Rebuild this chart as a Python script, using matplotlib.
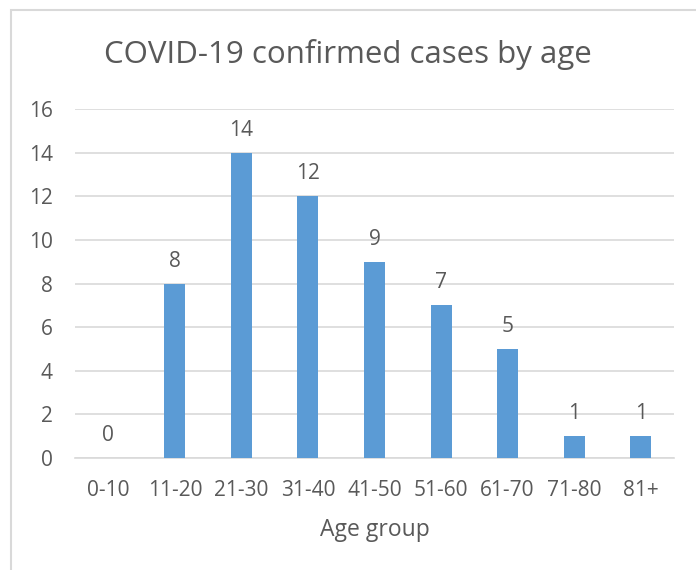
import matplotlib.pyplot as plt
from matplotlib.patches import Rectangle

age_groups = ['0-10', '11-20', '21-30', '31-40', '41-50', '51-60', '61-70', '71-80', '81+']
cases = [0, 8, 14, 12, 9, 7, 5, 1, 1]

plt.rcParams['font.family'] = ['Open Sans', 'DejaVu Sans']
text_col = '#595959'

fig = plt.figure(figsize=(6.96, 5.70), dpi=100)
ax = fig.add_axes([75/696, 112/570, 599/696, 349/570])

x = range(len(age_groups))
ax.bar(x, cases, width=0.315, color='#5B9BD5', zorder=3)
for i, v in zip(x, cases):
    ax.text(i, v + 0.55, str(v), ha='center', va='bottom', fontsize=15, color=text_col)

ax.set_xlim(-0.5, len(age_groups) - 0.5)
ax.set_ylim(0, 16)
ax.set_yticks(range(0, 17, 2))
ax.set_xticks(list(x))
ax.set_xticklabels(age_groups)
ax.yaxis.grid(True, color='#D9D9D9', linewidth=1.2, zorder=0)
ax.tick_params(length=0, labelsize=15, labelcolor=text_col)
ax.tick_params(axis='y', pad=16)
ax.tick_params(axis='x', pad=16)
for s in ['top', 'right', 'left']:
    ax.spines[s].set_visible(False)
ax.spines['bottom'].set_color('#D9D9D9')
ax.spines['bottom'].set_linewidth(1.2)

ax.set_xlabel('Age group', fontsize=16.5, color=text_col, labelpad=12)
fig.text(0.5, 1 - 54/570, 'COVID-19 confirmed cases by age', ha='center', va='center',
         fontsize=22.5, color=text_col)

# chart border
fig.patches.append(Rectangle((11/696, -0.1), 1.1, 1 - 10/570 + 0.1, transform=fig.transFigure,
                             fill=False, edgecolor='#D9D9D9', linewidth=1.5))

fig.savefig('out.png', dpi=100)
